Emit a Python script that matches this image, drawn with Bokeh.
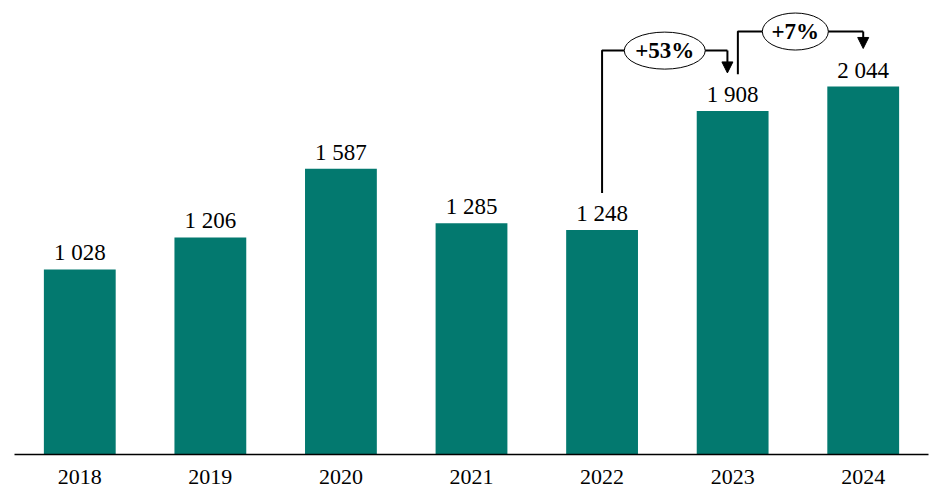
from bokeh.plotting import figure
from bokeh.models import ColumnDataSource, LabelSet, Arrow, NormalHead, Range1d
from bokeh.core.properties import value
from bokeh.embed import file_html
from bokeh.resources import INLINE

years = ["2018", "2019", "2020", "2021", "2022", "2023", "2024"]
values = [1028, 1206, 1587, 1285, 1248, 1908, 2044]
growth_pairs = [(4, 5), (5, 6)]
growth_labels = ["+53%", "+7%"]
growth_levels = [2244, 2350]

BAR = "#03796F"
FONT = "Liberation Serif"

xs = list(range(len(years)))
labels = [f"{v:,}".replace(",", " ") for v in values]
src = ColumnDataSource(dict(x=xs, top=values, label=labels))

p = figure(width=940, height=490, output_backend="svg", toolbar_location=None,
           x_range=Range1d(-0.5, len(years) - 0.5), y_range=Range1d(0, 2478),
           min_border_left=14, min_border_right=12, min_border_top=8, min_border_bottom=36)
p.outline_line_color = None
p.xgrid.visible = False
p.ygrid.visible = False
p.yaxis.visible = False

p.vbar(x="x", top="top", width=0.55, bottom=0, source=src, fill_color=BAR, line_color=None)

p.xaxis.ticker = xs
p.xaxis.major_label_overrides = {i: y for i, y in enumerate(years)}
p.xaxis.major_tick_line_color = None
p.xaxis.minor_tick_line_color = None
p.xaxis.axis_line_color = "black"
p.xaxis.axis_line_width = 1.5
p.xaxis.major_label_text_font = FONT
p.xaxis.major_label_text_font_size = "22px"
p.xaxis.major_label_text_color = "black"
p.xaxis.major_label_standoff = 9

p.add_layout(LabelSet(x="x", y="top", text="label", source=src, text_align="center",
                      text_baseline="alphabetic", y_offset=9, text_font=value(FONT),
                      text_font_size="23px", text_color="black"))

for (i, j), g, top in zip(growth_pairs, growth_labels, growth_levels):
    x0 = i + (0.0 if i == 4 else 0.04)
    x1 = j - (0.04 if j == 5 else 0.0)
    y0 = values[i] + 205
    tip = values[j] + 212
    p.line([x0, x0, x1, x1], [y0, top, top, top], line_color="black", line_width=2)
    p.add_layout(Arrow(end=NormalHead(size=11, fill_color="black", line_color="black"),
                       x_start=x1, y_start=top, x_end=x1, y_end=tip,
                       line_color="black", line_width=2))
    cx = (i + j) / 2 - 0.02
    w = 81 if len(g) > 3 else 66
    p.ellipse(x=[cx], y=[top], width=w, height=37, width_units="screen", height_units="screen",
              fill_color="white", line_color="black", line_width=1)
    p.text(x=[cx], y=[top], text=[g], text_align="center", text_baseline="middle",
           text_font=value(FONT), text_font_size="23px", text_font_style="bold", text_color="black")

open("out.html", "w").write(file_html(p, INLINE))
